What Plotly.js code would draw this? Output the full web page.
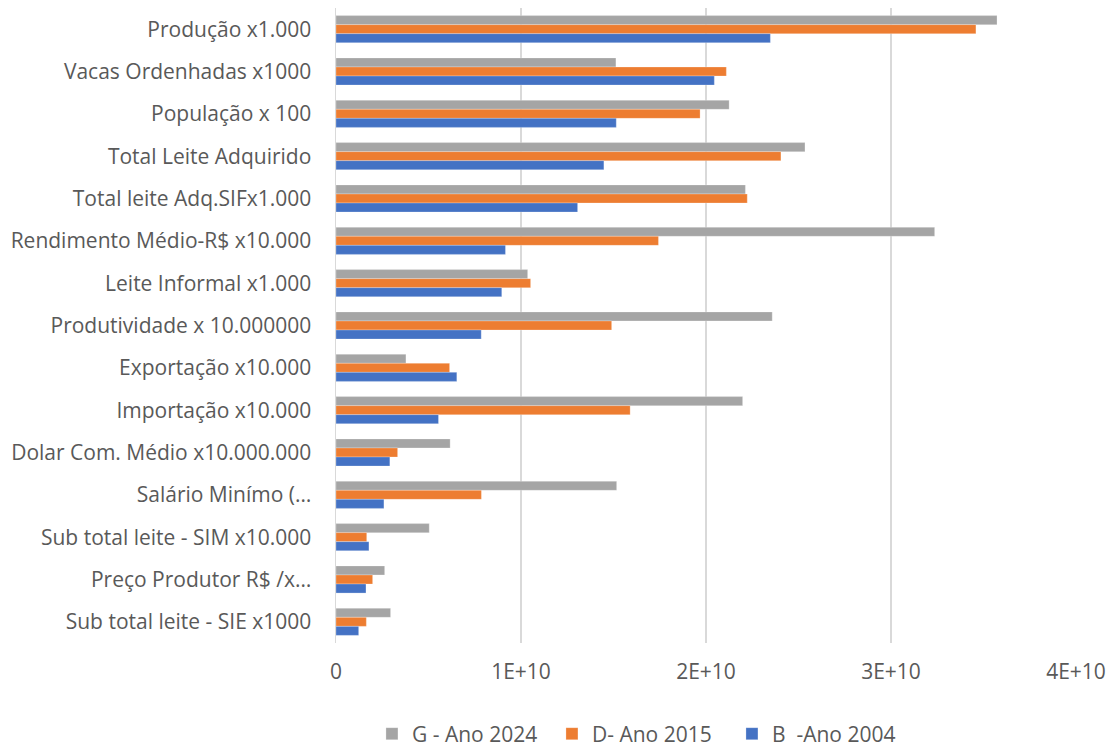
<!DOCTYPE html>
<html>
<head>
<meta charset="utf-8">
<script src="https://cdn.plot.ly/plotly-3.0.1.min.js"></script>
<style>html,body{margin:0;padding:0;background:#fff;}#chart{width:1109px;height:748px;}</style>
</head>
<body>
<div id="chart"></div>
<script>
const categories = [
  "Produção x1.000",
  "Vacas Ordenhadas x1000",
  "População x 100",
  "Total Leite Adquirido",
  "Total leite Adq.SIFx1.000",
  "Rendimento Médio-R$ x10.000",
  "Leite Informal x1.000",
  "Produtividade x 10.000000",
  "Exportação x10.000",
  "Importação x10.000",
  "Dolar Com. Médio x10.000.000",
  "Salário Minímo (…",
  "Sub total leite - SIM x10.000",
  "Preço Produtor R$ /x…",
  "Sub total leite - SIE x1000"
];
const seriesNames = ["G - Ano 2024", "D- Ano 2015", "B  -Ano 2004"];
const g2024 = [3.573e10, 1.513e10, 2.125e10, 2.535e10, 2.213e10, 3.236e10, 1.036e10, 2.358e10, 0.378e10, 2.198e10, 0.617e10, 1.517e10, 0.504e10, 0.263e10, 0.295e10];
const d2015 = [3.459e10, 2.110e10, 1.968e10, 2.405e10, 2.223e10, 1.743e10, 1.052e10, 1.490e10, 0.614e10, 1.590e10, 0.333e10, 0.786e10, 0.166e10, 0.198e10, 0.164e10];
const b2004 = [2.348e10, 2.045e10, 1.515e10, 1.448e10, 1.306e10, 0.916e10, 0.896e10, 0.785e10, 0.653e10, 0.554e10, 0.291e10, 0.259e10, 0.178e10, 0.162e10, 0.1225e10];
const xTickVals = [0, 1e10, 2e10, 3e10, 4e10];
const xTickText = ["0", "1E+10", "2E+10", "3E+10", "4E+10"];
const colors = ["#A5A5A5", "#ED7D31", "#4472C4"];

const data = [g2024, d2015, b2004].map((vals, i) => ({
  type: "bar",
  orientation: "h",
  name: seriesNames[i],
  y: categories,
  x: vals,
  marker: {color: colors[i], line: {color: "rgba(255,255,255,0.5)", width: 0.5}},
  hoverinfo: "x+y+name"
}));

const layout = {
  width: 1109,
  height: 748,
  margin: {l: 336, r: 33, t: 8, b: 105, autoexpand: false},
  paper_bgcolor: "#fff",
  plot_bgcolor: "#fff",
  barmode: "group",
  bargap: 0.36,
  bargroupgap: 0,
  font: {family: "'Open Sans', Lato, sans-serif", size: 19, color: "#595959"},
  xaxis: {
    range: [0, 4e10],
    tickvals: xTickVals,
    ticktext: xTickText,
    showgrid: true,
    gridcolor: "#D9D9D9",
    gridwidth: 1.5,
    zeroline: false,
    showline: false,
    ticks: "",
    ticklen: 0,
    ticklabelstandoff: 14,
    tickfont: {size: 21, color: "#595959"},
    fixedrange: true
  },
  yaxis: {
    type: "category",
    autorange: "reversed",
    showgrid: false,
    zeroline: false,
    showline: true,
    linecolor: "#D9D9D9",
    linewidth: 1.5,
    ticks: "",
    ticklen: 0,
    ticklabelstandoff: 19,
    tickfont: {size: 21, color: "#595959"},
    fixedrange: true
  },
  showlegend: true,
  legend: {
    orientation: "h",
    xref: "container",
    yref: "container",
    x: 0.3354,
    xanchor: "left",
    y: 0.0187,
    yanchor: "middle",
    font: {size: 21, color: "#595959"},
    traceorder: "normal",
    itemwidth: 30,
    entrywidth: 135,
    entrywidthmode: "pixels"
  }
};

Plotly.newPlot("chart", data, layout, {displayModeBar: false, staticPlot: true});
</script>
</body>
</html>
